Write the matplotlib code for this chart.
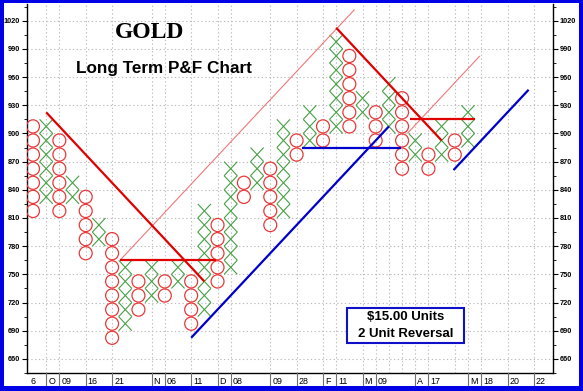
import matplotlib
matplotlib.use('Agg')
import matplotlib.pyplot as plt
from matplotlib.patches import Ellipse, Rectangle
from matplotlib.collections import LineCollection
from matplotlib.transforms import blended_transform_factory
from matplotlib import font_manager as fm
import numpy as np

# ---------------- data (box centres, $15 boxes) ----------------
BOX = 15.0
col_kind = list("OXOXOXOXOXOXOXOXOXOXOXOXOXOXOXOXOX")
col_low = [817.5, 832.5, 817.5, 832.5, 772.5, 787.5, 682.5, 697.5, 712.5, 727.5,
           727.5, 742.5, 697.5, 712.5, 742.5, 757.5, 832.5, 847.5, 802.5, 817.5,
           877.5, 892.5, 892.5, 907.5, 907.5, 922.5, 892.5, 907.5, 862.5, 877.5,
           862.5, 877.5, 877.5, 892.5]
col_high = [907.5, 907.5, 892.5, 847.5, 832.5, 802.5, 787.5, 757.5, 742.5, 757.5,
            742.5, 757.5, 742.5, 817.5, 802.5, 862.5, 847.5, 877.5, 862.5, 907.5,
            892.5, 922.5, 907.5, 997.5, 982.5, 937.5, 922.5, 952.5, 937.5, 892.5,
            877.5, 907.5, 892.5, 922.5]

# date labels along the bottom: (text, column)
date_labels = ["6", "O", "09", "16", "21", "N", "06", "11", "D", "08", "09", "28",
               "F", "11", "M", "09", "A", "17", "M", "18", "20", "22"]
date_cols = [-0.35, 1, 2, 4, 6, 9, 10, 12, 14, 15, 18, 20, 22, 23, 25, 26, 29, 30,
             33, 34, 36, 38]
extra_grid_cols = [27, 28, 32]

# trend lines: (col, price) endpoints
red_down_1 = [(1.0, 922.5), (13.0, 742.5)]
red_thin_1 = [(6.6, 765.0), (24.4, 1032.0)]
red_flat_1 = [(6.6, 765.0), (13.85, 765.0)]
blue_up_1 = [(12.0, 682.5), (27.0, 907.5)]
blue_flat_1 = [(20.4, 885.0), (27.9, 885.0)]
red_down_2 = [(23.0, 1012.5), (31.0, 892.5)]
red_flat_2 = [(28.6, 915.0), (33.5, 915.0)]
red_thin_2 = [(28.4, 900.0), (33.9, 982.5)]
blue_up_2 = [(31.9, 861.0), (37.6, 946.5)]

y_major = list(range(660, 1021, 30))

# ---------------- fonts ----------------
names = {f.name for f in fm.fontManager.ttflist}
NARROW = 'Liberation Sans Narrow' in names
nfam = ['Liberation Sans Narrow', 'Liberation Sans', 'DejaVu Sans'] if NARROW else ['Liberation Sans', 'DejaVu Sans']
nscale = 1.0 if NARROW else 0.85

W, H = 583, 391
fig = plt.figure(figsize=(W / 100, H / 100), dpi=100)
fig.patch.set_facecolor('white')

def fx(x):
    return x / W

def fy(y):
    return 1 - y / H

L, R, T, B = 27, 553, 4, 373
ax = fig.add_axes([fx(L), fy(B), fx(R) - fx(L), fy(T) - fy(B)])
ax.set_xlim(-0.455, 39.45)
ax.set_ylim(650.6, 1037.8)
ax.set_facecolor('white')

# grid
grid_kw = dict(color='#bdbdbd', lw=0.8, ls=(0, (1.2, 2.2)), zorder=0)
for v in y_major:
    ax.axhline(v, **grid_kw)
for c in sorted(set([c for c in date_cols if c >= 0] + extra_grid_cols)):
    ax.axvline(c, **grid_kw)

# X and O columns
x_segs = []
hw, hh = 0.5, BOX / 2
for i, (k, lo, hi) in enumerate(zip(col_kind, col_low, col_high)):
    n = int(round((hi - lo) / BOX)) + 1
    vals = lo + BOX * np.arange(n)
    for v in vals:
        if k == 'X':
            x_segs.append([(i - hw, v - hh), (i + hw, v + hh)])
            x_segs.append([(i - hw, v + hh), (i + hw, v - hh)])
        else:
            ax.add_patch(Ellipse((i, v), 0.98, 14.0, fill=False,
                                 edgecolor='#e8393a', lw=0.9, zorder=3))
ax.add_collection(LineCollection(x_segs, colors='#45a045', linewidths=0.8, zorder=2))

def draw_line(pts, color, lw, z=4):
    xs, ys = zip(*pts)
    ax.plot(xs, ys, color=color, lw=lw, zorder=z, solid_capstyle='butt')

draw_line(red_thin_1, '#f07878', 0.8)
draw_line(red_thin_2, '#f07878', 0.8)
draw_line(red_down_1, '#e00000', 1.6)
draw_line(red_flat_1, '#e00000', 1.6)
draw_line(red_down_2, '#e00000', 1.6)
draw_line(red_flat_2, '#e00000', 1.6)
draw_line(blue_up_1, '#0000cc', 1.6)
draw_line(blue_flat_1, '#0000cc', 1.6)
draw_line(blue_up_2, '#0000cc', 1.6)

# axes styling
for s in ['left', 'right', 'bottom']:
    ax.spines[s].set_color('black')
    ax.spines[s].set_linewidth(1.0)
ax.spines['top'].set_visible(False)
ax.set_xticks([])
ax.set_yticks(y_major)
ax.set_yticks(list(range(645, 1036, 15)), minor=True)
ax.tick_params(axis='y', which='major', left=True, right=True, labelleft=True,
               labelright=True, length=3.5, width=0.8, pad=1.5, direction='out')
ax.tick_params(axis='y', which='minor', left=True, right=True, length=2.5, width=0.6,
               direction='out')
for lab in ax.get_yticklabels():
    lab.set_family(nfam)
    lab.set_fontsize(6.2 * nscale)
    lab.set_fontweight('bold')

# date strip at the bottom
trans = blended_transform_factory(ax.transData, ax.transAxes)
ah = B - T
strip_h = 13 / ah
for lab, c in zip(date_labels, date_cols):
    if c >= 0:
        ax.plot([c, c], [0, -strip_h], transform=trans, color='#707070', lw=0.8,
                clip_on=False, zorder=5)
    ax.text(c + 0.15, -8.5 / ah, lab, transform=trans, ha='left', va='center',
            fontsize=7.5 * nscale, family=nfam, clip_on=False)

# titles
fig.text(fx(150), fy(33), 'GOLD', ha='center', va='center', fontsize=17,
         fontweight='bold', family=['Liberation Serif', 'DejaVu Serif'])
fig.text(fx(164), fy(69), 'Long Term P&F Chart', ha='center', va='center',
         fontsize=12.3, fontweight='bold', family=['Liberation Sans', 'DejaVu Sans'])

# info box
bx0, bx1, by0, by1 = 347, 464, 308, 343
fig.patches.append(Rectangle((fx(bx0), fy(by1)), fx(bx1) - fx(bx0), fy(by0) - fy(by1),
                             transform=fig.transFigure, facecolor='white',
                             edgecolor='#1010c8', lw=1.5, zorder=6))
fig.text(fx(405.5), fy(317), '$15.00 Units', ha='center', va='center', fontsize=9.5,
         fontweight='bold', family=['Liberation Sans', 'DejaVu Sans'], zorder=7)
fig.text(fx(405.5), fy(334), '2 Unit Reversal', ha='center', va='center', fontsize=9.5,
         fontweight='bold', family=['Liberation Sans', 'DejaVu Sans'], zorder=7)

# blue frame
blue = '#0000e6'
for (x0, y0, x1, y1) in [(0, 0, 4, H), (579, 0, W, H), (0, 0, W, 3), (0, 386, W, H)]:
    fig.patches.append(Rectangle((fx(x0), fy(y1)), fx(x1) - fx(x0), fy(y0) - fy(y1),
                                 transform=fig.transFigure, facecolor=blue,
                                 edgecolor='none', zorder=10))

fig.savefig('out.png', dpi=100, facecolor='white')
